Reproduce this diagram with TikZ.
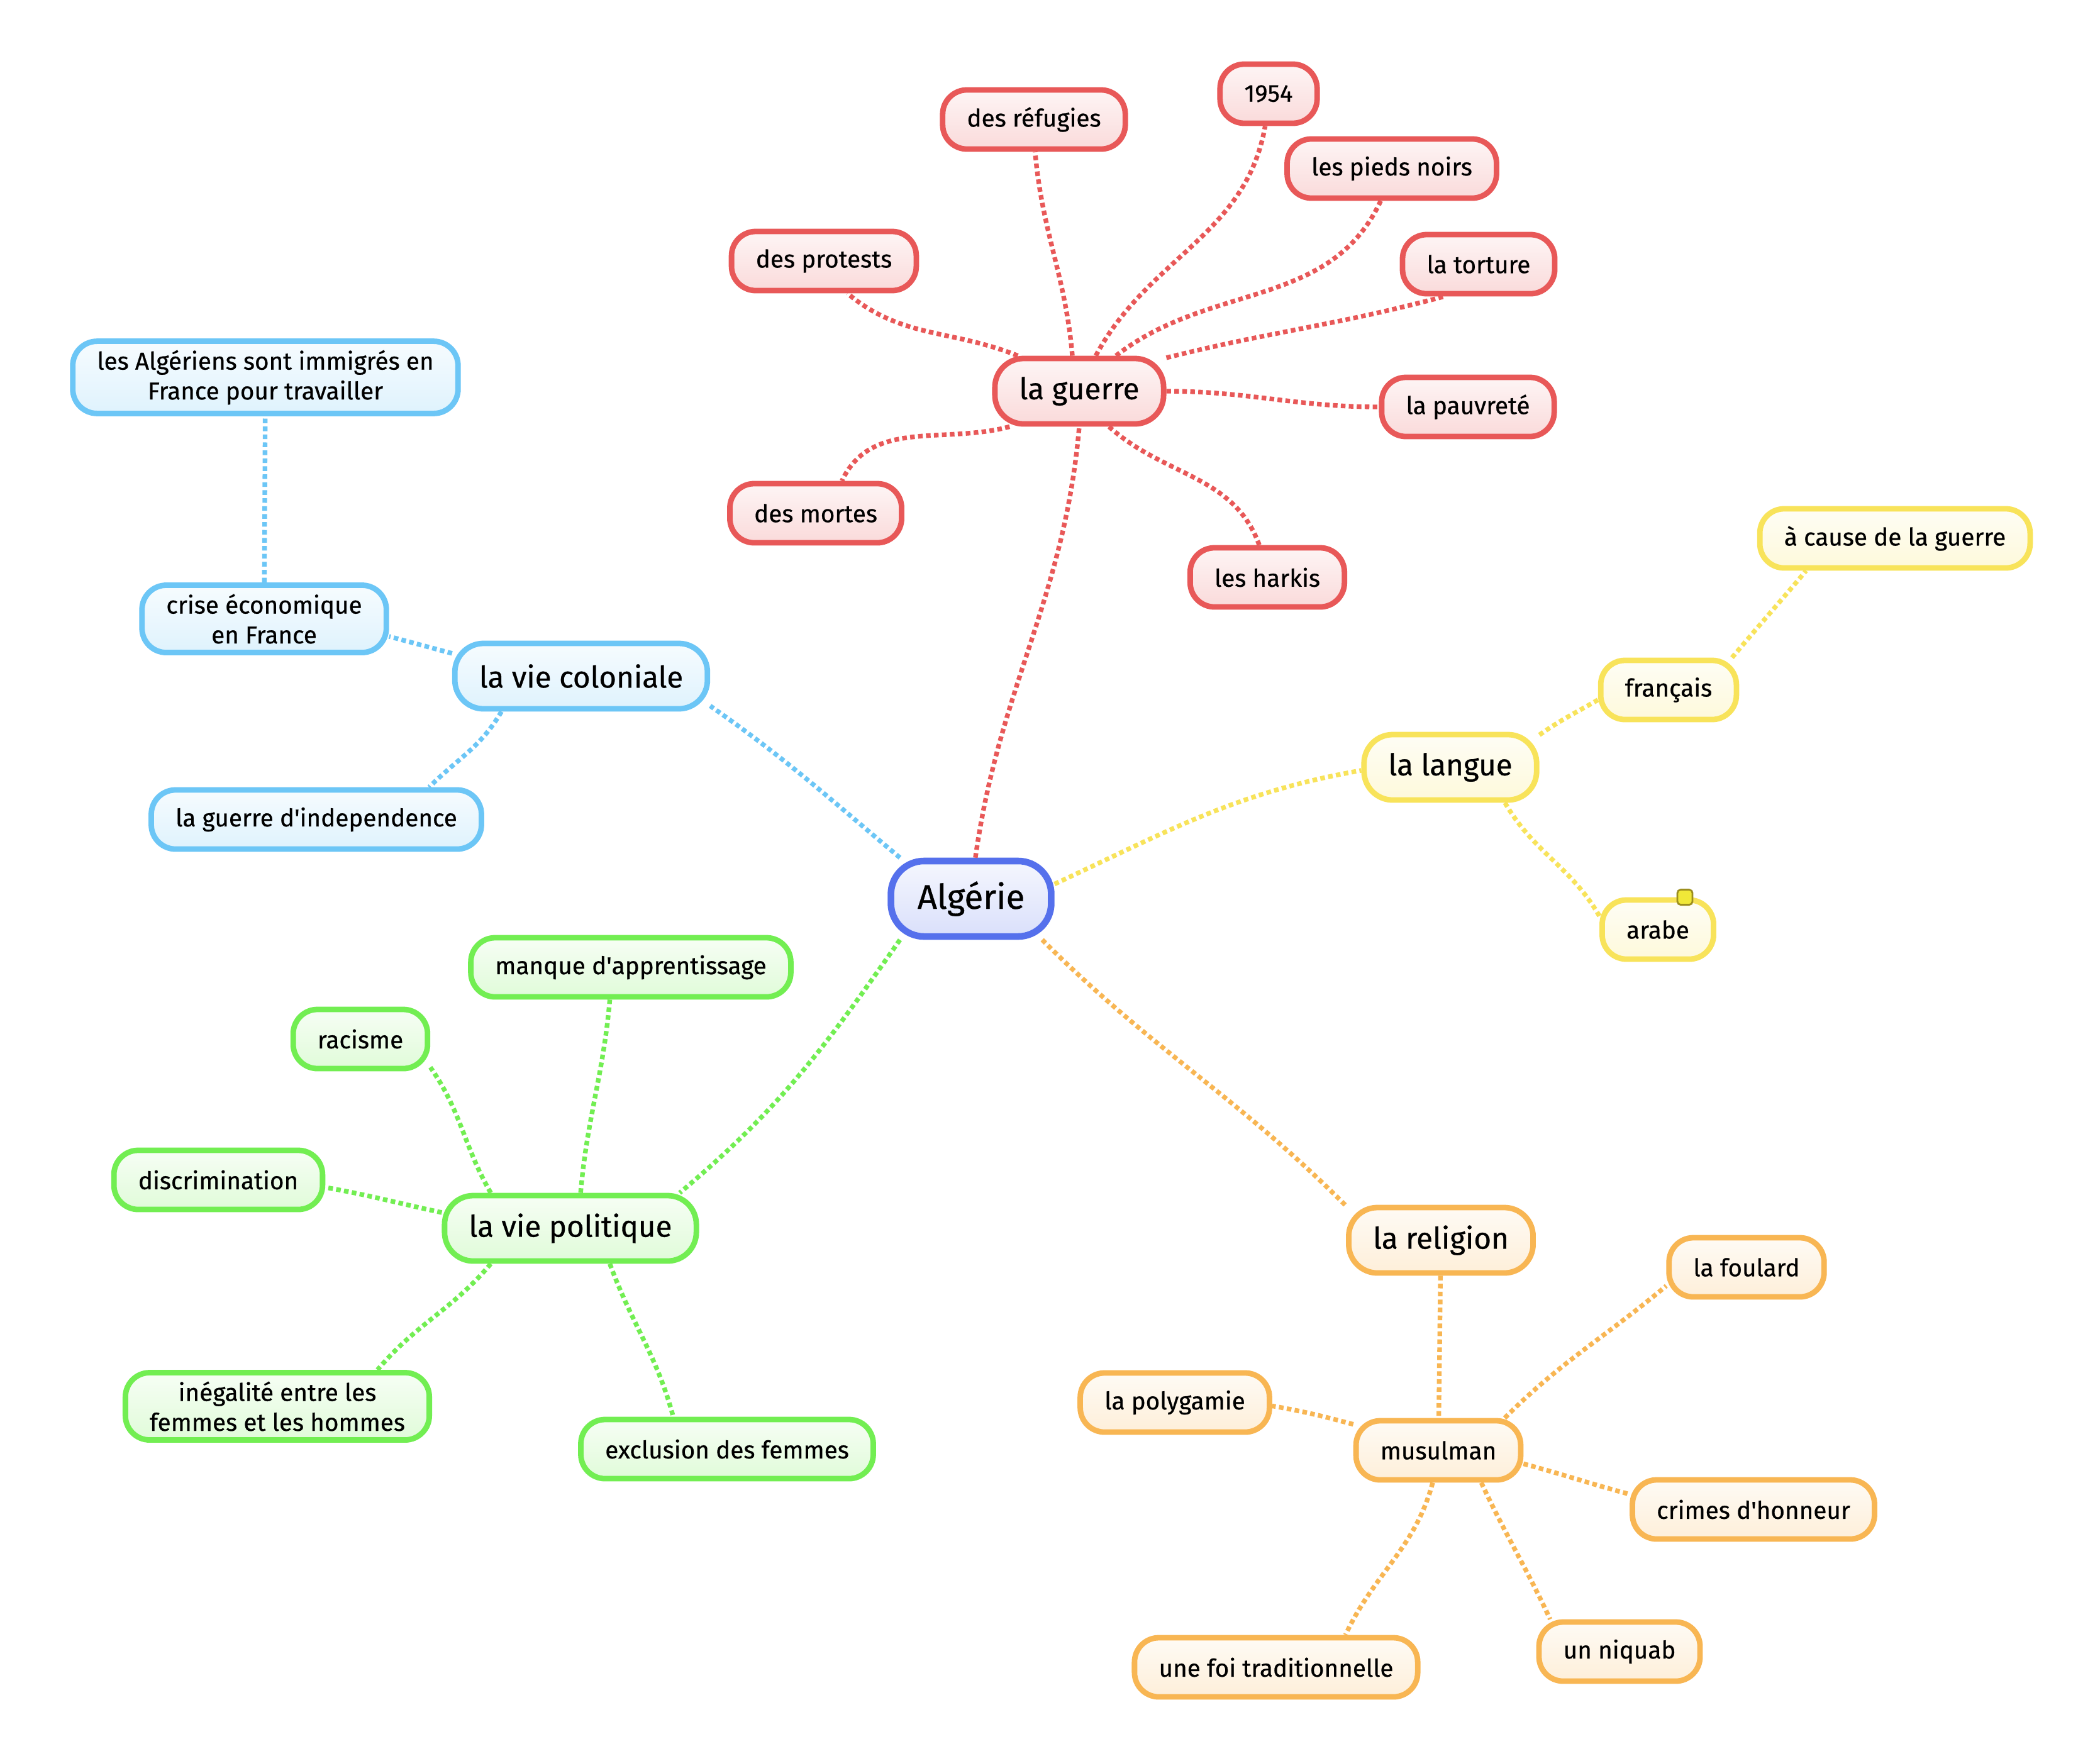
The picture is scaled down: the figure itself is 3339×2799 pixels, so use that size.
\documentclass[tikz,border=0pt]{standalone}
\usepackage{fontspec}
\setmainfont{Fira Sans}[FakeBold=0.6]
\usetikzlibrary{positioning}
\definecolor{rootcol}{HTML}{5570EC}
\definecolor{redcol}{HTML}{E85858}
\definecolor{bluecol}{HTML}{6CC6F6}
\definecolor{yelcol}{HTML}{F8E35A}
\definecolor{orcol}{HTML}{F8B653}
\definecolor{grncol}{HTML}{72EE52}
\definecolor{notecol}{HTML}{F0E838}
\definecolor{noteline}{HTML}{9C8E1E}

\begin{document}
\begin{tikzpicture}[
  x=0.01cm, y=0.01cm,
  box/.style={draw=#1, top color=#1!6, bottom color=#1!22, text=black,
              line width=2.5pt, align=center, inner xsep=11pt, inner ysep=4pt},
  root/.style={box=rootcol, line width=3pt, rounded corners=15pt,
               minimum height=1.2cm, inner xsep=12pt,
               font=\fontsize{15.5}{18}\selectfont},
  topic/.style={box=#1, rounded corners=13pt, minimum height=1.04cm,
                font=\fontsize{13.5}{16}\selectfont},
  leaf/.style={box=#1, rounded corners=11pt, minimum height=0.94cm,
               font=\fontsize{11}{13.5}\selectfont},
  lnk/.style={draw=#1, line width=2.1pt, dash pattern=on 2.1pt off 1.5pt},
  notemark/.style={draw=noteline, fill=notecol, line width=0.8pt,
                   rounded corners=1.5pt, minimum size=0.24cm, inner sep=0pt}]

\fill[white] (0,0) rectangle (3339,-2799);
\useasboundingbox (0,0) rectangle (3339,-2799);

% ==================================================== centre
\node[root] (alg) at (1544,-1429) {Algérie};

% ==================================================== la guerre
\node[topic=redcol] (guerre) at (1716,-622) {la guerre};
\foreach \nm/\px/\py/\txt in {refugies/1644/-190/des réfugies,
    an54/2017/-149/1954, pieds/2213/-268/les pieds noirs,
    protests/1310/-415/des protests, torture/2351/-420/la torture,
    pauvrete/2334/-647/la pauvreté, mortes/1297/-816/des mortes,
    harkis/2015/-918/les harkis}
  \node[leaf=redcol] (\nm) at (\px,\py) {\txt};
\foreach \nm/\a/\o/\i/\b in {refugies/101/95/-85/-88, an54/65/62/-100/-96,
    pieds/44/38/-115/-109, protests/150/158/-40/-54, torture/21/14/-165/-137,
    pauvrete/0/0/180/180, mortes/-153/-165/65/51, harkis/-50/-42/110/104}
  \draw[lnk=redcol] (guerre.\a) to[out=\o,in=\i] (\nm.\b);
\draw[lnk=redcol] (alg.84) to[out=82,in=-95] (guerre.-90);

% ==================================================== la vie coloniale
\node[topic=bluecol] (coloniale) at (924,-1075) {la vie coloniale};
\node[leaf=bluecol] (crise) at (420,-984) {crise économique\\en France};
\node[leaf=bluecol] (immigres) at (422,-600)
  {les Algériens sont immigrés en\\France pour travailler};
\node[leaf=bluecol] (independance) at (503,-1303)
  {la guerre d\textquotesingle independence};
\draw[lnk=bluecol] (alg.150) to[out=140,in=-35] (coloniale.-13);
\draw[lnk=bluecol] (coloniale.170) to[out=165,in=-15] (crise.-8);
\draw[lnk=bluecol] (coloniale.-156) to[out=-120,in=45] (independance.16);
\draw[lnk=bluecol] (crise) -- (immigres);

% ==================================================== la langue
\node[topic=yelcol] (langue) at (2306,-1220) {la langue};
\node[leaf=yelcol] (francais) at (2653,-1097) {français};
\node[leaf=yelcol] (cause) at (3013,-856) {à cause de la guerre};
\node[leaf=yelcol] (arabe) at (2636,-1478) {arabe};
\node[notemark] (arabenote) at ([xshift=0.43cm]arabe.north) {};
\draw[lnk=yelcol] (alg.10) to[out=25,in=-170] (langue.182);
\draw[lnk=yelcol] (langue.20) to[out=35,in=-150] (francais.-172);
\draw[lnk=yelcol] (francais.27) to[out=50,in=-130] (cause.-160);
\draw[lnk=yelcol] (langue.-33) to[out=-60,in=120] (arabe.167);

% ==================================================== la religion
\node[topic=orcol] (religion) at (2291,-1972) {la religion};
\node[leaf=orcol] (musulman) at (2287,-2306) {musulman};
\foreach \nm/\px/\py/\txt in {foulard/2777/-2015/la foulard,
    polygamie/1868/-2230/la polygamie,
    crimes/2788/-2400/crimes d\textquotesingle honneur,
    niquab/2575/-2626/un niquab, foi/2029/-2651/une foi traditionnelle}
  \node[leaf=orcol] (\nm) at (\px,\py) {\txt};
\foreach \nm/\a/\o/\i/\b in {foulard/26/45/-140/-167, polygamie/163/165/-10/-2,
    crimes/-9/-15/165/173, niquab/-37/-65/115/155, foi/-100/-105/65/25}
  \draw[lnk=orcol] (musulman.\a) to[out=\o,in=\i] (\nm.\b);
\draw[lnk=orcol] (alg.-30) to[out=-45,in=135] (religion.160);
\draw[lnk=orcol] (religion) -- (musulman);

% ==================================================== la vie politique
\node[topic=grncol] (politique) at (907,-1953) {la vie politique};
\foreach \nm/\px/\py/\txt in {
    manque/1003/-1538/manque d\textquotesingle apprentissage,
    racisme/573/-1652/racisme, discrim/347/-1876/discrimination,
    inegalite/441/-2236/{inégalité entre les\\femmes et les hommes},
    exclusion/1156/-2304/exclusion des femmes}
  \node[leaf=grncol] (\nm) at (\px,\py) {\txt};
\foreach \nm/\a/\o/\i/\b in {manque/74/85/-95/-123, racisme/156/120/-55/-22,
    discrim/173/168/-10/-4, inegalite/-156/-130/50/20,
    exclusion/-42/-70/105/149}
  \draw[lnk=grncol] (politique.\a) to[out=\o,in=\i] (\nm.\b);
\draw[lnk=grncol] (alg.-150) to[out=-125,in=40] (politique.18);

\end{tikzpicture}
\end{document}
